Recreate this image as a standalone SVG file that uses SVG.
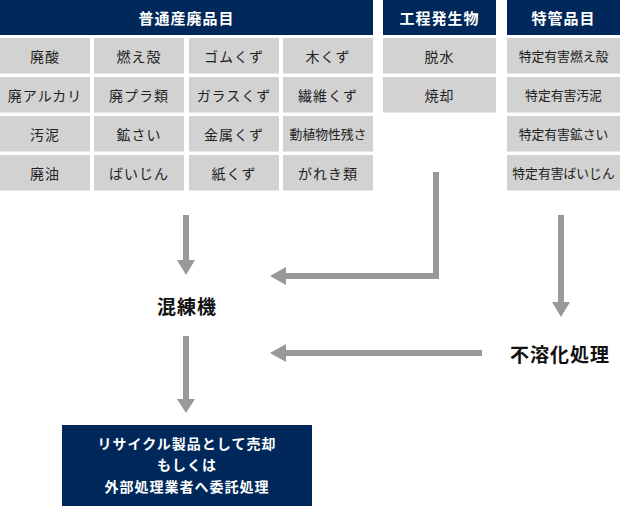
<svg xmlns="http://www.w3.org/2000/svg" width="620" height="506" viewBox="0 0 620 506">
<defs>
<style>
.hd{fill:#00285a}
.cell{fill:#d2d2d2}
.sh{fill:#e6e6e6}
.ht{font-family:"Noto Sans CJK JP","Noto Sans",sans-serif;font-size:15px;font-weight:bold;fill:#fff;text-anchor:middle;dominant-baseline:central;letter-spacing:1px}
.ct{font-family:"Noto Sans CJK JP","Noto Sans",sans-serif;font-size:14px;fill:#222;text-anchor:middle;dominant-baseline:central;letter-spacing:1px}
.cs{font-family:"Noto Sans CJK JP","Noto Sans",sans-serif;font-size:12.8px;fill:#222;text-anchor:middle;dominant-baseline:central}
.lt{font-family:"Noto Sans CJK JP","Noto Sans",sans-serif;font-size:19px;font-weight:bold;fill:#111;text-anchor:middle;dominant-baseline:central;letter-spacing:1px}
.bt{font-family:"Noto Sans CJK JP","Noto Sans",sans-serif;font-size:14px;font-weight:bold;fill:#fff;text-anchor:middle;dominant-baseline:central;letter-spacing:1px}
.ln{stroke:#999;stroke-width:6;fill:none}
.ah{fill:#999}
</style>
</defs>

<g id="general">
<rect class="hd" x="0" y="0" width="373" height="35"/>
<text class="ht" x="186.5" y="17.5">普通産廃品目</text>
<g id="general-cells">
<rect class="cell" x="0" y="38" width="90" height="35"/><rect class="sh" x="0" y="73" width="90" height="1"/>
<rect class="cell" x="94" y="38" width="90" height="35"/><rect class="sh" x="94" y="73" width="90" height="1"/>
<rect class="cell" x="189" y="38" width="90" height="35"/><rect class="sh" x="189" y="73" width="90" height="1"/>
<rect class="cell" x="283" y="38" width="90" height="35"/><rect class="sh" x="283" y="73" width="90" height="1"/>
<rect class="cell" x="0" y="77" width="90" height="35"/><rect class="sh" x="0" y="112" width="90" height="1"/>
<rect class="cell" x="94" y="77" width="90" height="35"/><rect class="sh" x="94" y="112" width="90" height="1"/>
<rect class="cell" x="189" y="77" width="90" height="35"/><rect class="sh" x="189" y="112" width="90" height="1"/>
<rect class="cell" x="283" y="77" width="90" height="35"/><rect class="sh" x="283" y="112" width="90" height="1"/>
<rect class="cell" x="0" y="116" width="90" height="35"/><rect class="sh" x="0" y="151" width="90" height="1"/>
<rect class="cell" x="94" y="116" width="90" height="35"/><rect class="sh" x="94" y="151" width="90" height="1"/>
<rect class="cell" x="189" y="116" width="90" height="35"/><rect class="sh" x="189" y="151" width="90" height="1"/>
<rect class="cell" x="283" y="116" width="90" height="35"/><rect class="sh" x="283" y="151" width="90" height="1"/>
<rect class="cell" x="0" y="155" width="90" height="35"/><rect class="sh" x="0" y="190" width="90" height="1"/>
<rect class="cell" x="94" y="155" width="90" height="35"/><rect class="sh" x="94" y="190" width="90" height="1"/>
<rect class="cell" x="189" y="155" width="90" height="35"/><rect class="sh" x="189" y="190" width="90" height="1"/>
<rect class="cell" x="283" y="155" width="90" height="35"/><rect class="sh" x="283" y="190" width="90" height="1"/>
<text class="ct" x="45" y="55.5">廃酸</text>
<text class="ct" x="139" y="55.5">燃え殻</text>
<text class="ct" x="234" y="55.5">ゴムくず</text>
<text class="ct" x="328" y="55.5">木くず</text>
<text class="ct" x="45" y="94.5">廃アルカリ</text>
<text class="ct" x="139" y="94.5">廃プラ類</text>
<text class="ct" x="234" y="94.5">ガラスくず</text>
<text class="ct" x="328" y="94.5">繊維くず</text>
<text class="ct" x="45" y="133.5">汚泥</text>
<text class="ct" x="139" y="133.5">鉱さい</text>
<text class="ct" x="234" y="133.5">金属くず</text>
<text class="cs" x="328" y="133.5">動植物性残さ</text>
<text class="ct" x="45" y="172.5">廃油</text>
<text class="ct" x="139" y="172.5">ばいじん</text>
<text class="ct" x="234" y="172.5">紙くず</text>
<text class="ct" x="328" y="172.5">がれき類</text>
</g>
</g>

<g id="process">
<rect class="hd" x="383" y="0" width="113" height="35"/>
<text class="ht" x="439.5" y="17.5">工程発生物</text>
<rect class="cell" x="383" y="38" width="113" height="35"/><rect class="sh" x="383" y="73" width="113" height="1"/>
<rect class="cell" x="383" y="77" width="113" height="35"/><rect class="sh" x="383" y="112" width="113" height="1"/>
<text class="ct" x="439.5" y="55.5">脱水</text>
<text class="ct" x="439.5" y="94.5">焼却</text>
</g>

<g id="special">
<rect class="hd" x="507" y="0" width="113" height="35"/>
<text class="ht" x="563.5" y="17.5">特管品目</text>
<rect class="cell" x="507" y="38" width="113" height="35"/><rect class="sh" x="507" y="73" width="113" height="1"/>
<rect class="cell" x="507" y="77" width="113" height="35"/><rect class="sh" x="507" y="112" width="113" height="1"/>
<rect class="cell" x="507" y="116" width="113" height="35"/><rect class="sh" x="507" y="151" width="113" height="1"/>
<rect class="cell" x="507" y="155" width="113" height="35"/><rect class="sh" x="507" y="190" width="113" height="1"/>
<text class="cs" x="563.5" y="55.5">特定有害燃え殻</text>
<text class="cs" x="563.5" y="94.5">特定有害汚泥</text>
<text class="cs" x="563.5" y="133.5">特定有害鉱さい</text>
<text class="cs" x="563.5" y="172.5">特定有害ばいじん</text>
</g>

<g id="mixer">
<text class="lt" x="187" y="305">混練機</text>
</g>

<g id="insolubilize">
<text class="lt" x="560" y="353">不溶化処理</text>
</g>

<g id="result">
<rect class="hd" x="62" y="425" width="250" height="81"/>
<text class="bt" x="187" y="443">リサイクル製品として売却</text>
<text class="bt" x="187" y="464">もしくは</text>
<text class="bt" x="187" y="486">外部処理業者へ委託処理</text>
</g>

<g id="connectors">
<line class="ln" x1="186" y1="215" x2="186" y2="261"/>
<polygon class="ah" points="177,260 195,260 186,275"/>
<polyline class="ln" points="436,172 436,276 285,276"/>
<polygon class="ah" points="286,267 286,285 270,276"/>
<line class="ln" x1="561" y1="215" x2="561" y2="303"/>
<polygon class="ah" points="552,302 570,302 561,317"/>
<line class="ln" x1="482" y1="353" x2="285" y2="353"/>
<polygon class="ah" points="286,344 286,362 270,353"/>
<line class="ln" x1="186" y1="336" x2="186" y2="400"/>
<polygon class="ah" points="177,399 195,399 186,413"/>
</g>
</svg>
